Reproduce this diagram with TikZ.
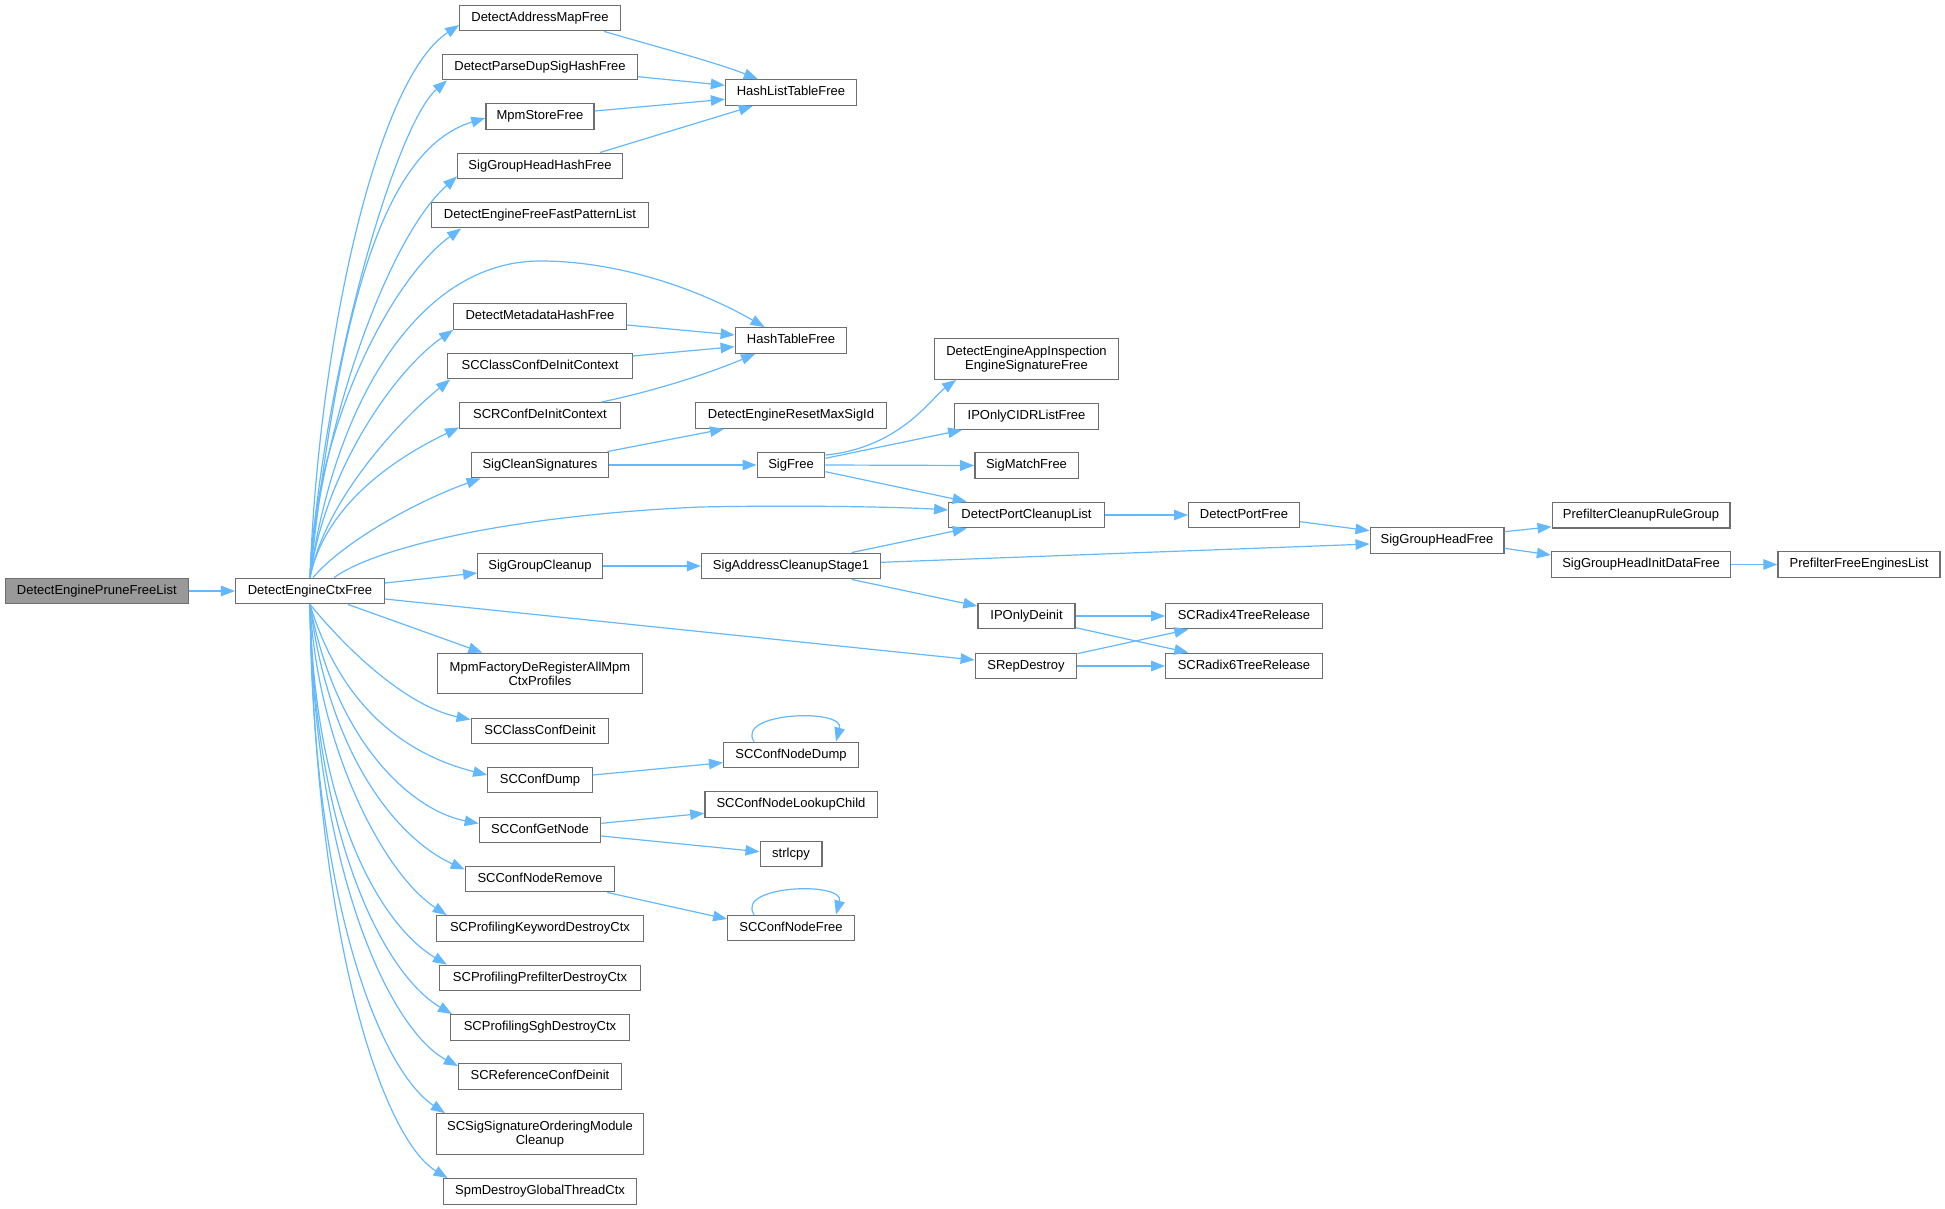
\documentclass[tikz,border=0pt]{standalone}
\usepackage{fontspec}
\setmainfont{Liberation Sans}
\usetikzlibrary{arrows.meta,calc}
\definecolor{edgeblue}{HTML}{63B8FF}
\definecolor{boxgray}{HTML}{6E6E6E}
\definecolor{rootfill}{HTML}{999999}
\newcommand\fnsz{\fontsize{13pt}{14.3pt}\selectfont}
\tikzset{
  fn/.style={draw=boxgray, line width=1.3pt, fill=white, inner xsep=6pt, inner ysep=0pt,
    minimum height=25.6pt, text height=9.4pt, text depth=2.7pt, font=\fnsz},
  fntwo/.style={draw=boxgray, line width=1.3pt, fill=white, inner xsep=6pt, inner ysep=0pt,
    minimum height=40.5pt, align=center, font=\fnsz},
  arr/.style={draw=edgeblue, line width=1.2pt, -{Triangle[length=14pt,width=10.5pt]}}
}
\begin{document}
\begin{tikzpicture}[x=1pt,y=-1pt]
\useasboundingbox (0,0) rectangle (1945,1209);
% column 0/1
\node[fn, fill=rootfill, minimum width=182.8pt] (root) at (96.8,591) {DetectEnginePruneFreeList};
\node[fn, minimum width=148.8pt] (ctx) at (310,591) {DetectEngineCtxFree};
% column 2
\node[fn, minimum width=160.4pt] (dam) at (540,18) {DetectAddressMapFree};
\node[fn, minimum width=194.8pt] (dpd) at (540,67) {DetectParseDupSigHashFree};
\node[fn, minimum width=108.2pt] (msf) at (540,116.5) {MpmStoreFree};
\node[fn, minimum width=164.6pt] (sghh) at (540,166) {SigGroupHeadHashFree};
\node[fn, minimum width=216.4pt] (deff) at (540,215) {DetectEngineFreeFastPatternList};
\node[fn, minimum width=172.4pt] (dmh) at (540,316.5) {DetectMetadataHashFree};
\node[fn, minimum width=184.5pt] (sccdic) at (540,366) {SCClassConfDeInitContext};
\node[fn, minimum width=160.4pt] (scrdic) at (540,415.5) {SCRConfDeInitContext};
\node[fn, minimum width=137.6pt] (scs) at (540,465) {SigCleanSignatures};
\node[fn, minimum width=124.4pt] (sgc) at (540,566) {SigGroupCleanup};
\node[fntwo, minimum width=205.2pt] (mpmf) at (540,673.5) {MpmFactoryDeRegisterAllMpm\\CtxProfiles};
\node[fn, minimum width=137.6pt] (sccd) at (540,731) {SCClassConfDeinit};
\node[fn, minimum width=104.4pt] (sccdump) at (540,780) {SCConfDump};
\node[fn, minimum width=121.4pt] (gn) at (540,830) {SCConfGetNode};
\node[fn, minimum width=149.2pt] (nr) at (540,879) {SCConfNodeRemove};
\node[fn, minimum width=207.2pt] (pk) at (540,928.5) {SCProfilingKeywordDestroyCtx};
\node[fn, minimum width=201pt] (pp) at (540,978) {SCProfilingPrefilterDestroyCtx};
\node[fn, minimum width=178.7pt] (ps) at (540,1027.5) {SCProfilingSghDestroyCtx};
\node[fn, minimum width=162.9pt] (rcd) at (540,1076.5) {SCReferenceConfDeinit};
\node[fntwo, minimum width=206.8pt] (ssom) at (540,1134) {SCSigSignatureOrderingModule\\Cleanup};
\node[fn, minimum width=193.6pt] (spm) at (540,1191.5) {SpmDestroyGlobalThreadCtx};
% column 3
\node[fn, minimum width=131pt] (hltf) at (791,92.5) {HashListTableFree};
\node[fn, minimum width=111.5pt] (htf) at (791,340.5) {HashTableFree};
\node[fn, minimum width=190.7pt] (derm) at (791,415.5) {DetectEngineResetMaxSigId};
\node[fn, minimum width=67.6pt] (sf) at (791,465) {SigFree};
\node[fn, minimum width=179.1pt] (sacs) at (791,566) {SigAddressCleanupStage1};
\node[fn, minimum width=134.7pt] (scnd) at (791,755) {SCConfNodeDump};
\node[fn, minimum width=172.3pt] (lc) at (791,804.5) {SCConfNodeLookupChild};
\node[fn, minimum width=61.7pt] (strl) at (791,854) {strlcpy};
\node[fn, minimum width=126.6pt] (scnf) at (791,928) {SCConfNodeFree};
% column 4
\node[fntwo, minimum width=184.1pt] (deai) at (1026.5,359) {DetectEngineAppInspection\\EngineSignatureFree};
\node[fn, minimum width=143.5pt] (ipoc) at (1026.5,416.5) {IPOnlyCIDRListFree};
\node[fn, minimum width=103.3pt] (smf) at (1026.5,465.5) {SigMatchFree};
\node[fn, minimum width=155.5pt] (dpcl) at (1026.5,515) {DetectPortCleanupList};
\node[fn, minimum width=97pt] (ipod) at (1026.5,616) {IPOnlyDeinit};
\node[fn, minimum width=101.5pt] (srd) at (1026,666) {SRepDestroy};
% column 5
\node[fn, minimum width=110.7pt] (dpf) at (1244,515) {DetectPortFree};
\node[fn, minimum width=156.6pt] (r4) at (1244,616) {SCRadix4TreeRelease};
\node[fn, minimum width=156.6pt] (r6) at (1244,666) {SCRadix6TreeRelease};
% column 6-8
\node[fn, minimum width=133.7pt] (sghf) at (1437,540.5) {SigGroupHeadFree};
\node[fn, minimum width=177.7pt] (pcrg) at (1641,515.3) {PrefilterCleanupRuleGroup};
\node[fn, minimum width=179pt] (sghidf) at (1641,564.5) {SigGroupHeadInitDataFree};
\node[fn, minimum width=162pt] (pfel) at (1859,564.5) {PrefilterFreeEnginesList};

% root
\draw[arr] (root.east) -- (ctx.west);
% ctx upper fan
\draw[arr] (ctx.north) .. controls (318,350) and (375,80) .. ($(dam.west)+(0,7)$);
\draw[arr] (ctx.north) .. controls (322,380) and (395,125) .. ($(dpd.south west)+(5,0)$);
\draw[arr] (ctx.north) .. controls (338,320) and (380,150) .. ($(msf.west)+(0,1.5)$);
\draw[arr] (ctx.north) .. controls (318,440) and (385,240) .. ($(sghh.south west)+(0,-3)$);
\draw[arr] (ctx.north) .. controls (314,430) and (390,280) .. ($(deff.south west)+(30,0)$);
\draw[arr] (ctx.north) .. controls (335,400) and (420,261) .. (540,261)
   .. controls (620,261) and (700,290) .. ($(htf.north west)+(30,0)$);
\draw[arr] (ctx.north) .. controls (325,470) and (395,370) .. (dmh.south west);
\draw[arr] (ctx.north) .. controls (325,500) and (400,420) .. ($(sccdic.south west)+(3,0)$);
\draw[arr] (ctx.north) .. controls (325,505) and (395,458) .. ($(scrdic.south west)+(0,-1.5)$);
\draw[arr] ($(ctx.north)+(3,0)$) .. controls (345,540) and (420,500) .. ($(scs.south west)+(10,0)$);
\draw[arr] ($(ctx.north)+(24,0)$) .. controls (380,545) and (520,515) .. (700,507)
   .. controls (800,505) and (900,507) .. ($(dpcl.west)+(0,-5)$);
% ctx right side
\draw[arr] ($(ctx.east)+(0,-8)$) -- ($(sgc.west)+(0,7)$);
\draw[arr] ($(ctx.east)+(0,8)$) -- ($(srd.west)+(0,-6)$);
\draw[arr] ($(ctx.south)+(38,0)$) -- ($(mpmf.north west)+(45.6,0)$);
% ctx lower fan
\draw[arr] (ctx.south) .. controls (360,665) and (415,708) .. ($(sccd.north west)+(0,2)$);
\draw[arr] (ctx.south) .. controls (345,720) and (420,758) .. ($(sccdump.west)+(0,-5)$);
\draw[arr] (ctx.south) .. controls (335,740) and (410,810) .. ($(gn.west)+(0,-6.5)$);
\draw[arr] (ctx.south) .. controls (330,760) and (400,840) .. ($(nr.north west)+(0,4)$);
\draw[arr] (ctx.south) .. controls (318,750) and (385,875) .. ($(pk.north west)+(11,0)$);
\draw[arr] (ctx.south) .. controls (314,810) and (380,925) .. ($(pp.north west)+(8,0)$);
\draw[arr] (ctx.south) .. controls (314,840) and (385,975) .. ($(ps.north west)+(2,0)$);
\draw[arr] (ctx.south) .. controls (314,870) and (390,1030) .. ($(rcd.north west)+(0,3)$);
\draw[arr] (ctx.south) .. controls (312,900) and (380,1070) .. ($(ssom.north west)+(9,0)$);
\draw[arr] (ctx.south) .. controls (316,950) and (385,1140) .. ($(spm.north west)+(5,0)$);
% column 2 -> column 3
\draw[arr] ($(dam.south east)+(-16.6,0)$) .. controls (650,45) and (715,62) .. ($(hltf.north west)+(33,0)$);
\draw[arr] ($(dpd.east)+(0,9.7)$) -- ($(hltf.west)+(0,-7.2)$);
\draw[arr] ($(msf.east)+(0,-5.5)$) -- ($(hltf.west)+(0,6.8)$);
\draw[arr] ($(sghh.north east)+(-23,0)$) -- ($(hltf.south west)+(28,0)$);
\draw[arr] ($(dmh.east)+(0,8.5)$) -- ($(htf.west)+(0,-5.5)$);
\draw[arr] ($(sccdic.east)+(0,-10)$) -- ($(htf.west)+(0,6.2)$);
\draw[arr] ($(scrdic.north east)+(-19.5,0)$) .. controls (650,392) and (705,375) .. ($(htf.south west)+(20.5,0)$);
\draw[arr] ($(scs.north east)+(-2,0)$) -- ($(derm.south west)+(29,0)$);
\draw[arr] (scs.east) -- (sf.west);
\draw[arr] (sgc.east) -- (sacs.west);
\draw[arr] ($(sccdump.east)+(0,-5)$) -- ($(scnd.west)+(0,7.7)$);
\draw[arr] ($(gn.east)+(0,-6.7)$) -- ($(lc.west)+(0,8.8)$);
\draw[arr] ($(gn.east)+(0,6)$) -- ($(strl.west)+(0,-2.3)$);
\draw[arr] ($(nr.south east)+(-8,0)$) -- ($(scnf.west)+(0,-9)$);
% self loops
\draw[arr] ($(scnd.north)+(-37,0)$) .. controls (735,712) and (845,708) .. ($(scnd.north)+(45,0)$);
\draw[arr] ($(scnf.north)+(-37,0)$) .. controls (735,885) and (845,881) .. ($(scnf.north)+(45,0)$);
% SigFree
\draw[arr] ($(sf.east)+(0,-10)$) .. controls (900,448) and (932.7,396.7) .. ($(deai.south west)+(22.3,0)$);
\draw[arr] ($(sf.east)+(0,-6.7)$) -- ($(ipoc.south west)+(8,0)$);
\draw[arr] (sf.east) -- (smf.west);
\draw[arr] ($(sf.east)+(0,6.7)$) -- ($(dpcl.north west)+(18.5,0)$);
% SigAddressCleanupStage1
\draw[arr] ($(sacs.north east)+(-29.5,0)$) -- ($(dpcl.south west)+(18.5,0)$);
\draw[arr] ($(sacs.east)+(0,-3.7)$) -- ($(sghf.west)+(0,3.5)$);
\draw[arr] ($(sacs.south east)+(-29.5,0)$) -- ($(ipod.north west)+(0,3.5)$);
% ports
\draw[arr] (dpcl.east) -- (dpf.west);
\draw[arr] ($(dpf.east)+(0,6.7)$) -- ($(sghf.west)+(0,-9.8)$);
% radix
\draw[arr] (ipod.east) -- (r4.west);
\draw[arr] ($(ipod.east)+(0,11.7)$) -- ($(r6.north west)+(23.3,0)$);
\draw[arr] ($(srd.north east)+(0,1.1)$) -- ($(r4.south west)+(23.3,0)$);
\draw[arr] (srd.east) -- (r6.west);
% sig group head
\draw[arr] ($(sghf.east)+(0,-8.8)$) -- ($(pcrg.west)+(0,11.4)$);
\draw[arr] ($(sghf.east)+(0,7.8)$) -- ($(sghidf.west)+(0,-9.5)$);
\draw[arr] (sghidf.east) -- (pfel.west);
\end{tikzpicture}
\end{document}
